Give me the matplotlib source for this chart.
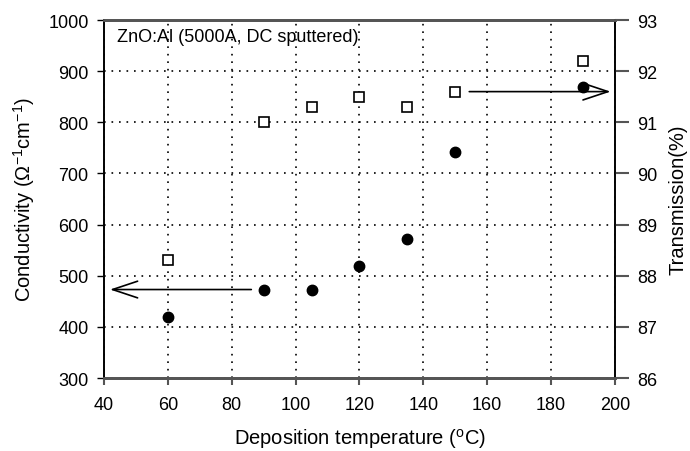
import numpy as np
import matplotlib.pyplot as plt

plt.rcParams['font.family'] = ['Liberation Sans', 'DejaVu Sans']

# data
temp = [60, 90, 105, 120, 135, 150, 190]
conductivity = [420, 473, 473, 519, 572, 741, 870]
transmission = [88.3, 91.0, 91.3, 91.5, 91.3, 91.6, 92.2]

fig = plt.figure(figsize=(6.9, 4.52), dpi=100)
ax = fig.add_axes([0.1507, 0.1615, 0.7406, 0.792])
ax2 = ax.twinx()

ax.plot(temp, conductivity, 'o', color='black', markersize=7.5, zorder=3)
ax2.plot(temp, transmission, 's', mfc='white', mec='black', mew=1.2, markersize=6.5, zorder=3)

ax.set_xlim(40, 200)
ax.set_ylim(300, 1000)
ax2.set_ylim(86, 93)
ax.set_xticks(np.arange(40, 201, 20))
ax.set_yticks(np.arange(300, 1001, 100))
ax2.set_yticks(np.arange(86, 94, 1))

ax.grid(True, linestyle=(0, (1, 3.5)), color='black', linewidth=1.2)
ax.set_axisbelow(True)

ax.tick_params(axis='y', direction='out', length=5, width=1, pad=6, labelsize=13)
ax.tick_params(axis='x', direction='out', length=5, width=1.5, color='#555555',
               pad=8, labelsize=13, top=False)
ax2.tick_params(axis='y', direction='out', length=10, width=1.5, color='#555555',
                pad=6, labelsize=13)

for a in (ax, ax2):
    a.spines['top'].set_linewidth(2)
    a.spines['top'].set_color('#555555')
    a.spines['bottom'].set_linewidth(2)
    a.spines['bottom'].set_color('#555555')
    a.spines['left'].set_linewidth(1.2)
    a.spines['right'].set_linewidth(1.2)

ax.set_xlabel('Deposition temperature ($\\mathregular{^oC}$)', fontsize=14.5, labelpad=9)
ax.set_ylabel('Conductivity ($\\mathregular{\\Omega^{-1}cm^{-1}}$)', fontsize=14.5, labelpad=8)
ax2.set_ylabel('Transmission(%)', fontsize=14.5, labelpad=8)

ax.text(44, 984, 'ZnO:Al (5000A, DC sputtered)', fontsize=13, va='top', ha='left')

# arrows pointing to each axis
ax.annotate('', xy=(41, 473), xytext=(87, 473),
            arrowprops=dict(arrowstyle='->, head_length=0.9, head_width=0.3',
                            color='black', lw=1.2, mutation_scale=20))
ax2.annotate('', xy=(199.5, 91.6), xytext=(153.5, 91.6),
             arrowprops=dict(arrowstyle='->, head_length=0.9, head_width=0.3',
                             color='black', lw=1.2, mutation_scale=20))

fig.savefig('out.png', dpi=100)
